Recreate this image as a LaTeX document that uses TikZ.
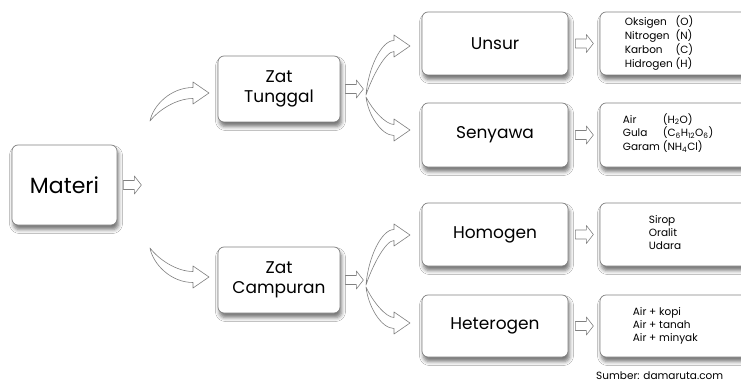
\documentclass[tikz,border=0pt]{standalone}
\usepackage{fontspec}
\setmainfont{Poppins}
\usetikzlibrary{shadows.blur,calc}

\tikzset{
  box/.style={draw=black!50, line width=0.7pt, fill=white, rounded corners=6pt,
    blur shadow={shadow xshift=1.5pt, shadow yshift=-4.5pt, shadow blur radius=4pt, shadow opacity=55}},
  big/.style={font=\fontsize{17}{20}\selectfont, align=center},
  small/.style={font=\fontsize{10.5}{13}\selectfont, align=left, anchor=west, inner sep=0pt},
  harrow/.style={draw=black!50, line width=0.6pt, fill=white, line join=round},
  blockarr/.pic={\path[harrow] (0,-4.5) -- (11,-4.5) -- (11,-9) -- (18,0) -- (11,9) -- (11,4.5) -- (0,4.5) -- cycle;}
}
\newcommand\cvarr[5]{%
  \begin{scope}[shift={(#1,#2)}, yscale=#5]
    \path[harrow] (0,0) .. controls ({0.05*#3},{-0.55*#4}) and ({0.35*#3},{-#4-5.5}) .. ({#3-16},{-#4-5.5})
      -- ({#3-16},{-#4-11}) -- (#3,-#4) -- ({#3-16},{-#4+11}) -- ({#3-16},{-#4+5.5})
      .. controls ({0.45*#3},{-#4+5.5}) and ({0.15*#3},{-0.4*#4}) .. (0,0) -- cycle;
  \end{scope}}

\begin{document}
\begin{tikzpicture}[x=1pt,y=-1pt]
\clip (0,0) rectangle (741,385);
\fill[white] (0,0) rectangle (741,385);

% main boxes
\node[box, minimum width=105pt, minimum height=80pt, font=\fontsize{22}{26}\selectfont] (materi) at (64.5,185) {Materi};
\node[box, big, minimum width=122pt, minimum height=66pt] (tunggal) at (279,89) {Zat\\Tunggal};
\node[box, big, minimum width=122pt, minimum height=66pt] (campuran) at (279,280) {Zat\\Campuran};

\node[box, big, minimum width=146pt, minimum height=63pt] (unsur) at (495,43.5) {Unsur};
\node[box, big, minimum width=146pt, minimum height=64pt] (senyawa) at (495,135) {Senyawa};
\node[box, big, minimum width=146pt, minimum height=63pt] (homogen) at (495,234.5) {Homogen};
\node[box, big, minimum width=146pt, minimum height=62pt] (heterogen) at (495,326) {Heterogen};

\node[box, minimum width=170pt, minimum height=63pt] (r1) at (685,43.5) {};
\node[box, minimum width=170pt, minimum height=64pt] (r2) at (685,135) {};
\node[box, minimum width=170pt, minimum height=63pt] (r3) at (685,234.5) {};
\node[box, minimum width=170pt, minimum height=62pt] (r4) at (685,326) {};

% texts of right boxes
\node[small] (t1) at ($(r1.west)+(25,0)$) {\begin{tabular}{@{}l@{\ }l@{}}Oksigen&(O)\\Nitrogen&(N)\\Karbon&(C)\\Hidrogen&(H)\end{tabular}};
\node[small] (t2) at ($(r2.west)+(23,-1)$) {\begin{tabular}{@{}l@{\ }l@{}}Air&(H\textsubscript{2}O)\\Gula&(C\textsubscript{6}H\textsubscript{12}O\textsubscript{6})\\Garam&(NH\textsubscript{4}Cl)\end{tabular}};
\node[small] (t3) at ($(r3.west)+(49,-2)$) {Sirop\\Oralit\\Udara};
\node[small] (t4) at ($(r4.west)+(33,0)$) {Air + kopi\\Air + tanah\\Air + minyak};

\node[font=\fontsize{10.5}{12}\selectfont, anchor=west, inner sep=0pt] (src) at (596,376) {Sumber: damaruta.com};

% small block arrows
\pic at ($(materi.east)+(6,0)$) {blockarr};
\pic at ($(tunggal.east)+(5,0)$) {blockarr};
\pic at ($(campuran.east)+(5,0)$) {blockarr};
\pic at ($(unsur.east)+(7,0)$) {blockarr};
\pic at ($(senyawa.east)+(7,0)$) {blockarr};
\pic at ($(homogen.east)+(7,0)$) {blockarr};
\pic at ($(heterogen.east)+(7,0)$) {blockarr};

% curved arrows
\cvarr{150}{121}{59}{28}{1}
\cvarr{150}{248}{59}{29}{-1}
\cvarr{366}{95}{44}{49}{1}
\cvarr{366}{97}{44}{33}{-1}
\cvarr{366}{285}{44}{50}{1}
\cvarr{366}{287}{44}{36}{-1}
\end{tikzpicture}
\end{document}
